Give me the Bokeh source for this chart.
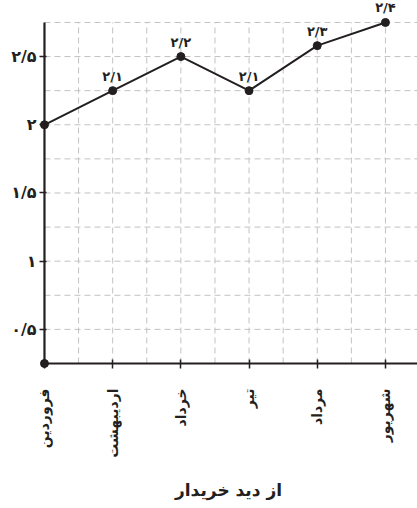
import math
from bokeh.plotting import figure
from bokeh.models import FixedTicker, ColumnDataSource, LabelSet, Range1d
from bokeh.embed import file_html
from bokeh.resources import INLINE
from bokeh.core.properties import value

# ---- data ----
months = ["فروردین", "اردیبهشت", "خرداد", "تیر", "مرداد", "شهریور"]
# heights at which the points are drawn in the picture (on its y scale)
values = [2.0, 2.25, 2.5, 2.25, 2.58, 2.75]
# the value labels printed above the points
value_labels = ["", "۲/۱", "۲/۲", "۲/۱", "۲/۳", "۲/۴"]
y_ticks = [0.5, 1.0, 1.5, 2.0, 2.5]
y_tick_labels = ["۰/۵", "۱", "۱/۵", "۲", "۲/۵"]
axis_title = "از دید خریدار"
y_min, y_max = 0.25, 2.75
origin_x = [0]
origin_y = [0.25]

FONT = "DejaVu Sans"
INK = "#231f20"
GRID = "#c2c2c2"

x = list(range(len(months)))
x_start, x_end = -0.073, 5.47
y_start, y_end = 0.2133, 2.911

p = figure(width=417, height=508, output_backend="svg", toolbar_location=None,
           x_range=Range1d(x_start, x_end), y_range=Range1d(y_start, y_end),
           min_border_left=39, min_border_right=0, min_border_top=0,
           min_border_bottom=140)
p.outline_line_color = None
p.background_fill_color = "white"
p.xgrid.visible = False
p.ygrid.visible = False

# dashed grid, bounded by the axes
gx = [0.5 * k for k in range(1, 11)]
gy = [0.25 * k for k in range(2, 12)]
p.segment(x0=gx, y0=[y_min] * len(gx), x1=gx, y1=[y_max] * len(gx),
          line_color=GRID, line_width=1, line_dash="6 4", level="underlay")
p.segment(x0=[0] * len(gy), y0=gy, x1=[x_end] * len(gy), y1=gy,
          line_color=GRID, line_width=1, line_dash="6 4", level="underlay")

# axis lines through the origin
p.segment(x0=[0, 0], y0=[y_min, y_min], x1=[0, x_end], y1=[y_max, y_min],
          line_color=INK, line_width=2.2)

# x axis (ticks and labels)
xa = p.xaxis[0]
xa.ticker = FixedTicker(ticks=x)
xa.major_label_overrides = {i: m for i, m in enumerate(months)}
xa.major_label_orientation = math.pi / 2
xa.axis_line_color = None
xa.major_tick_line_color = INK
xa.major_tick_line_width = 1.5
xa.major_tick_in = 9
xa.major_tick_out = 0
xa.minor_tick_line_color = None
xa.major_label_standoff = 20
xa.major_label_text_font = FONT
xa.major_label_text_font_size = "14px"
xa.major_label_text_font_style = "bold"
xa.major_label_text_color = INK
xa.axis_label = axis_title
xa.axis_label_text_font = FONT
xa.axis_label_text_font_size = "17px"
xa.axis_label_text_font_style = "bold"
xa.axis_label_text_color = INK
xa.axis_label_standoff = 19

# y axis (ticks and labels)
ya = p.yaxis[0]
ya.ticker = FixedTicker(ticks=y_ticks)
ya.major_label_overrides = dict(zip(y_ticks, y_tick_labels))
ya.axis_line_color = None
ya.major_tick_line_color = INK
ya.major_tick_line_width = 1.5
ya.major_tick_in = 7
ya.major_tick_out = 0
ya.minor_tick_line_color = None
ya.major_label_standoff = 3
ya.major_label_text_font = FONT
ya.major_label_text_font_size = "16px"
ya.major_label_text_font_style = "bold"
ya.major_label_text_color = INK

# data
src = ColumnDataSource(dict(x=x, y=values, lab=value_labels))
p.line("x", "y", source=src, line_color=INK, line_width=2)
p.scatter("x", "y", source=src, size=8, fill_color=INK, line_color=INK)
p.scatter(origin_x, origin_y, size=8, fill_color=INK, line_color=INK)

labels = LabelSet(x="x", y="y", text="lab", source=src, text_align="center",
                  text_baseline="bottom", y_offset=7,
                  text_font=value(FONT), text_font_size=value("13px"),
                  text_font_style=value("bold"), text_color=INK)
p.add_layout(labels)

open("out.html", "w").write(file_html(p, INLINE))
